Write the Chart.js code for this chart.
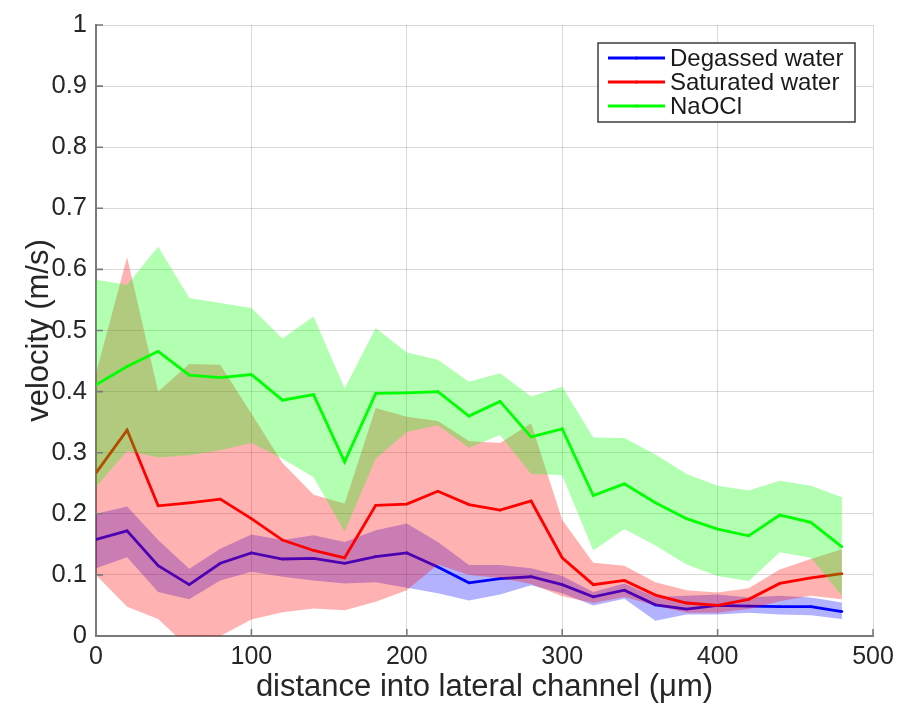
<!DOCTYPE html>
<html><head><meta charset="utf-8">
<script src="https://cdn.jsdelivr.net/npm/chart.js@4/dist/chart.umd.min.js"></script>
<style>html,body{margin:0;padding:0;background:#fff}#wrap{width:901px;height:709px}</style>
</head><body><div id="wrap"><canvas id="c" width="901" height="709"></canvas></div>
<script>
// distance into lateral channel (µm)
const distance = [0,20,40,60,80,100,120,140,160,180,200,220,240,260,280,300,320,340,360,380,400,420,440,460,480];

// Degassed water
const degassedMean  = [0.158,0.172,0.115,0.084,0.119,0.136,0.126,0.127,0.119,0.130,0.136,0.113,0.087,0.094,0.097,0.084,0.064,0.075,0.051,0.044,0.050,0.049,0.048,0.048,0.040];
const degassedUpper = [0.200,0.212,0.157,0.110,0.143,0.166,0.157,0.165,0.154,0.173,0.184,0.154,0.116,0.116,0.111,0.098,0.072,0.086,0.064,0.066,0.068,0.063,0.066,0.063,0.055];
const degassedLower = [0.111,0.129,0.072,0.060,0.091,0.105,0.097,0.091,0.086,0.088,0.079,0.070,0.058,0.068,0.083,0.070,0.050,0.061,0.025,0.035,0.035,0.038,0.035,0.034,0.028];

// Saturated water
const saturatedMean  = [0.267,0.337,0.213,0.218,0.224,0.192,0.157,0.140,0.128,0.214,0.216,0.237,0.215,0.206,0.221,0.128,0.084,0.091,0.067,0.054,0.050,0.060,0.086,0.095,0.102];
const saturatedUpper = [0.430,0.620,0.400,0.445,0.444,0.364,0.283,0.231,0.217,0.373,0.359,0.352,0.319,0.316,0.348,0.190,0.120,0.115,0.088,0.075,0.071,0.078,0.109,0.126,0.142];
const saturatedLower = [0.100,0.048,0.028,-0.020,0.000,0.027,0.039,0.045,0.042,0.056,0.075,0.117,0.100,0.095,0.085,0.065,0.054,0.064,0.050,0.038,0.038,0.044,0.057,0.066,0.060];

// NaOCl
const naoclMean  = [0.411,0.441,0.466,0.427,0.423,0.428,0.386,0.395,0.285,0.397,0.398,0.400,0.360,0.384,0.326,0.339,0.230,0.249,0.218,0.192,0.175,0.164,0.198,0.186,0.146];
const naoclUpper = [0.583,0.575,0.637,0.553,0.545,0.537,0.487,0.523,0.405,0.504,0.464,0.452,0.416,0.430,0.392,0.408,0.325,0.324,0.297,0.265,0.246,0.238,0.254,0.246,0.227];
const naoclLower = [0.244,0.303,0.292,0.296,0.304,0.316,0.290,0.260,0.171,0.290,0.334,0.345,0.308,0.329,0.265,0.263,0.140,0.175,0.148,0.117,0.098,0.090,0.137,0.128,0.066];

const xTicks = [0,100,200,300,400,500];
const yTicks = [0,0.1,0.2,0.3,0.4,0.5,0.6,0.7,0.8,0.9,1];
const seriesLabels = ['Degassed water','Saturated water','NaOCl'];
const xTitle = 'distance into lateral channel (\u03BCm)';
const yTitle = 'velocity (m/s)';

const FONT = '"Liberation Sans", Arial, Helvetica, sans-serif';
const pts = arr => distance.map((d,i)=>({x:d,y:arr[i]}));

function meanSet(label, arr, color, order){
  return {label, data: pts(arr), borderColor: color, backgroundColor: color, borderWidth: 2.8,
    pointRadius: 1.3, pointBorderWidth: 0, pointBackgroundColor: color, fill: false, order, tension: 0};
}
function bandSet(arr, fillColor, order, target){
  return {label: '', data: pts(arr), borderWidth: 0, borderColor: 'rgba(0,0,0,0)', pointRadius: 0,
    backgroundColor: fillColor, fill: target === null ? false : {target}, order, tension: 0};
}

const datasets = [
  meanSet(seriesLabels[2], naoclMean, '#00ff00', 0),       // 0
  bandSet(naoclUpper, 'rgba(0,255,0,0.30)', 1, 2),         // 1
  bandSet(naoclLower, 'rgba(0,0,0,0)', 2, null),           // 2
  meanSet(seriesLabels[1], saturatedMean, '#ff0000', 3),   // 3
  bandSet(saturatedUpper, 'rgba(255,0,0,0.30)', 4, 5),     // 4
  bandSet(saturatedLower, 'rgba(0,0,0,0)', 5, null),       // 5
  meanSet(seriesLabels[0], degassedMean, '#0000ff', 6),    // 6
  bandSet(degassedUpper, 'rgba(0,0,255,0.30)', 7, 8),      // 7
  bandSet(degassedLower, 'rgba(0,0,0,0)', 8, null)         // 8
];

const AXIS_COLOR = '#7a7a7a';

const innerTicks = {
  id: 'innerTicks',
  afterDatasetsDraw(chart){
    const {ctx, chartArea, scales} = chart;
    ctx.save();
    ctx.strokeStyle = AXIS_COLOR; ctx.lineWidth = 1.6;
    ctx.beginPath();
    yTicks.forEach(v => { const y = scales.y.getPixelForValue(v); ctx.moveTo(chartArea.left, y); ctx.lineTo(chartArea.left + 7, y); });
    xTicks.forEach(v => { const x = scales.x.getPixelForValue(v); ctx.moveTo(x, chartArea.bottom); ctx.lineTo(x, chartArea.bottom - 7); });
    ctx.stroke();
    ctx.restore();
  }
};

const boxLegend = {
  id: 'boxLegend',
  afterDraw(chart){
    const {ctx, chartArea} = chart;
    const mains = [6,3,0].map(i => chart.data.datasets[i]);
    const right = chartArea.right - 18, top = chartArea.top + 18;
    const w = 257, h = 79, left = right - w;
    ctx.save();
    ctx.fillStyle = '#ffffff';
    ctx.fillRect(left, top, w, h);
    ctx.strokeStyle = '#3c3c3c'; ctx.lineWidth = 1.5;
    ctx.strokeRect(left, top, w, h);
    ctx.font = '24px ' + FONT;
    ctx.textBaseline = 'middle';
    ctx.textAlign = 'left';
    mains.forEach((ds, k) => {
      const cy = top + 15 + k * 24;
      ctx.strokeStyle = ds.borderColor; ctx.lineWidth = 2.8;
      ctx.beginPath(); ctx.moveTo(left + 10, cy); ctx.lineTo(left + 67, cy); ctx.stroke();
      ctx.fillStyle = ds.borderColor;
      ctx.beginPath(); ctx.arc(left + 38.5, cy, 1.6, 0, Math.PI*2); ctx.fill();
      ctx.fillStyle = '#1a1a1a';
      ctx.fillText(ds.label, left + 72, cy + 1);
    });
    ctx.restore();
  }
};

new Chart(document.getElementById('c'), {
  type: 'line',
  data: { datasets },
  options: {
    responsive: false,
    devicePixelRatio: 1,
    animation: false,
    events: [],
    layout: { padding: { left: 0, right: 28, top: 25, bottom: 0 } },
    plugins: { legend: { display: false }, tooltip: { enabled: false }, filler: { propagate: false } },
    scales: {
      x: {
        type: 'linear', min: 0, max: 500,
        afterBuildTicks: s => { s.ticks = xTicks.map(v => ({value: v})); },
        afterFit: s => { s.height = 73; },
        grid: { color: 'rgba(0,0,0,0.15)', lineWidth: 1, drawTicks: false },
        border: { display: true, color: AXIS_COLOR, width: 2 },
        ticks: { color: '#262626', font: { family: FONT, size: 25 }, padding: 6, maxRotation: 0, autoSkip: false,
                 callback: v => String(v) },
        title: { display: true, text: xTitle, color: '#262626', font: { family: FONT, size: 31 }, padding: { top: 0, bottom: 3 } }
      },
      y: {
        type: 'linear', min: 0, max: 1,
        afterBuildTicks: s => { s.ticks = yTicks.map(v => ({value: v})); },
        afterFit: s => { s.width = 96; },
        grid: { color: 'rgba(0,0,0,0.15)', lineWidth: 1, drawTicks: false },
        border: { display: true, color: AXIS_COLOR, width: 2 },
        ticks: { color: '#262626', font: { family: FONT, size: 25.5 }, padding: 9, autoSkip: false,
                 callback: v => String(+v.toFixed(1)) },
        title: { display: true, text: yTitle, color: '#262626', font: { family: FONT, size: 31 }, padding: { top: 21, bottom: 0 } }
      }
    }
  },
  plugins: [innerTicks, boxLegend]
});
</script>
</body></html>
